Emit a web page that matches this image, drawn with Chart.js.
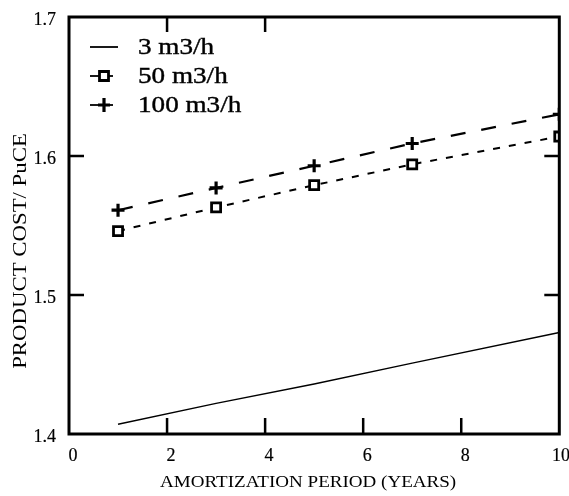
<!DOCTYPE html>
<html>
<head>
<meta charset="utf-8">
<script src="https://cdn.jsdelivr.net/npm/chart.js@4"></script>
<style>
  html, body { margin: 0; padding: 0; background: #fff; }
  #wrap { width: 569px; height: 496px; }
</style>
</head>
<body>
<div id="wrap"><canvas id="chart" width="569" height="496"></canvas></div>
<script>
// data
const years = [1, 3, 5, 7, 10];
const cost3 = [1.407, 1.422, 1.436, 1.451, 1.473];
const cost50 = [1.546, 1.563, 1.579, 1.594, 1.614];
const cost100 = [1.561, 1.577, 1.593, 1.609, 1.630];
const seriesLabels = ['3 m3/h', '50 m3/h', '100 m3/h'];
const xTicks = [0, 2, 4, 6, 8, 10];
const yTicks = [1.4, 1.5, 1.6, 1.7];
const xLabel = 'AMORTIZATION PERIOD (YEARS)';
const yLabel = 'PRODUCT COST/ PuCE';

const INK = '#000';
const FONT = '"Liberation Serif", "Times New Roman", serif';

function pts(ys) {
    return years.map((x, i) => ({x: x, y: ys[i]}));
}

// stretched text helper (scan fonts are wide)
function txt(ctx, s, x, y, size, align, sx, rot, heavy) {
    ctx.save();
    ctx.translate(x, y);
    if (rot) ctx.rotate(rot);
    ctx.scale(sx || 1, 1);
    ctx.font = size + 'px ' + FONT;
    ctx.fillStyle = INK;
    ctx.strokeStyle = INK;
    ctx.lineWidth = heavy || 0;
    ctx.textAlign = align;
    ctx.textBaseline = 'middle';
    ctx.fillText(s, 0, 0);
    if (heavy) ctx.strokeText(s, 0, 0);
    ctx.restore();
}

function marker(ctx, style, x, y) {
    ctx.save();
    ctx.strokeStyle = INK;
    ctx.setLineDash([]);
    if (style === 'rect') {
        ctx.lineWidth = 2.8;
        ctx.fillStyle = '#fff';
        ctx.beginPath();
        ctx.rect(x - 4.5, y - 4.5, 9, 9);
        ctx.fill();
        ctx.stroke();
    } else if (style === 'cross') {
        ctx.lineWidth = 3.2;
        ctx.beginPath();
        ctx.moveTo(x - 6, y); ctx.lineTo(x + 6, y);
        ctx.moveTo(x, y - 7); ctx.lineTo(x, y + 7);
        ctx.stroke();
    }
    ctx.restore();
}

const framePlugin = {
    id: 'frame',
    afterDraw(chart) {
        const ctx = chart.ctx;
        const a = chart.chartArea;
        const xs = chart.scales.x, ys = chart.scales.y;

        ctx.save();
        ctx.strokeStyle = INK;
        ctx.lineWidth = 3;
        ctx.strokeRect(a.left, a.top, a.right - a.left, a.bottom - a.top);

        // inward ticks
        ctx.lineWidth = 2.5;
        ctx.beginPath();
        xTicks.slice(1, -1).forEach(v => {
            const px = xs.getPixelForValue(v);
            ctx.moveTo(px, a.bottom); ctx.lineTo(px, a.bottom - 16);
            if (v <= 4) { ctx.moveTo(px, a.top); ctx.lineTo(px, a.top + 15); }
        });
        yTicks.slice(1, -1).forEach(v => {
            const py = ys.getPixelForValue(v);
            ctx.moveTo(a.left, py); ctx.lineTo(a.left + 15, py);
            ctx.moveTo(a.right, py); ctx.lineTo(a.right - 15, py);
        });
        ctx.stroke();
        ctx.restore();

        // tick labels
        xTicks.forEach(v => {
            const px = Math.min(xs.getPixelForValue(v) + 4, 561);
            txt(ctx, String(v), px, a.bottom + 22, 18, 'center', 1, 0, 0.2);
        });
        yTicks.forEach(v => {
            txt(ctx, v.toFixed(1), a.left - 13, ys.getPixelForValue(v) + 3, 18, 'right', 1, 0, 0.2);
        });

        // axis titles
        txt(ctx, xLabel, (a.left + a.right) / 2 - 6, a.bottom + 49, 17, 'center', 1.12);
        txt(ctx, yLabel, 21, 251, 19, 'center', 1.2, -Math.PI / 2);

        // legend inside plot, top left
        chart.data.datasets.forEach((ds, i) => {
            const y = a.top + 30 + i * 29;
            ctx.save();
            ctx.strokeStyle = INK;
            ctx.lineWidth = 1.8;
            ctx.beginPath();
            ctx.moveTo(a.left + 21, y); ctx.lineTo(a.left + (i === 0 ? 49 : 44), y);
            ctx.stroke();
            ctx.restore();
            if (ds.pointStyle && ds.pointRadius > 0) marker(ctx, ds.pointStyle, a.left + 35, y);
            txt(ctx, ds.label, a.left + 69, y + 1, 23, 'left', 1.18, 0, 0.4);
        });
    }
};

const config = {
    type: 'scatter',
    data: {
        datasets: [
            {
                label: seriesLabels[0],
                data: pts(cost3),
                showLine: true,
                borderColor: INK,
                borderWidth: 1.4,
                pointRadius: 0,
                clip: 0
            },
            {
                label: seriesLabels[1],
                data: pts(cost50),
                showLine: true,
                borderColor: INK,
                borderWidth: 2,
                borderDash: [7, 9],
                pointStyle: 'rect',
                pointRadius: 6.4,
                pointBorderWidth: 2.8,
                pointBackgroundColor: '#fff',
                pointBorderColor: INK,
                clip: 0
            },
            {
                label: seriesLabels[2],
                data: pts(cost100),
                showLine: true,
                borderColor: INK,
                borderWidth: 2.2,
                borderDash: [15, 16],
                pointStyle: 'cross',
                pointRadius: 6.5,
                pointBorderWidth: 3.2,
                pointBorderColor: INK,
                clip: 0
            }
        ]
    },
    options: {
        responsive: false,
        animation: false,
        layout: {
            padding: {left: 69, right: 5, top: 17, bottom: 62}
        },
        plugins: {
            legend: {display: false},
            tooltip: {enabled: false}
        },
        scales: {
            x: {
                type: 'linear',
                display: false,
                min: 0,
                max: 10
            },
            y: {
                type: 'linear',
                display: false,
                min: 1.4,
                max: 1.7
            }
        }
    },
    plugins: [framePlugin]
};

new Chart(document.getElementById('chart'), config);
</script>
</body>
</html>
